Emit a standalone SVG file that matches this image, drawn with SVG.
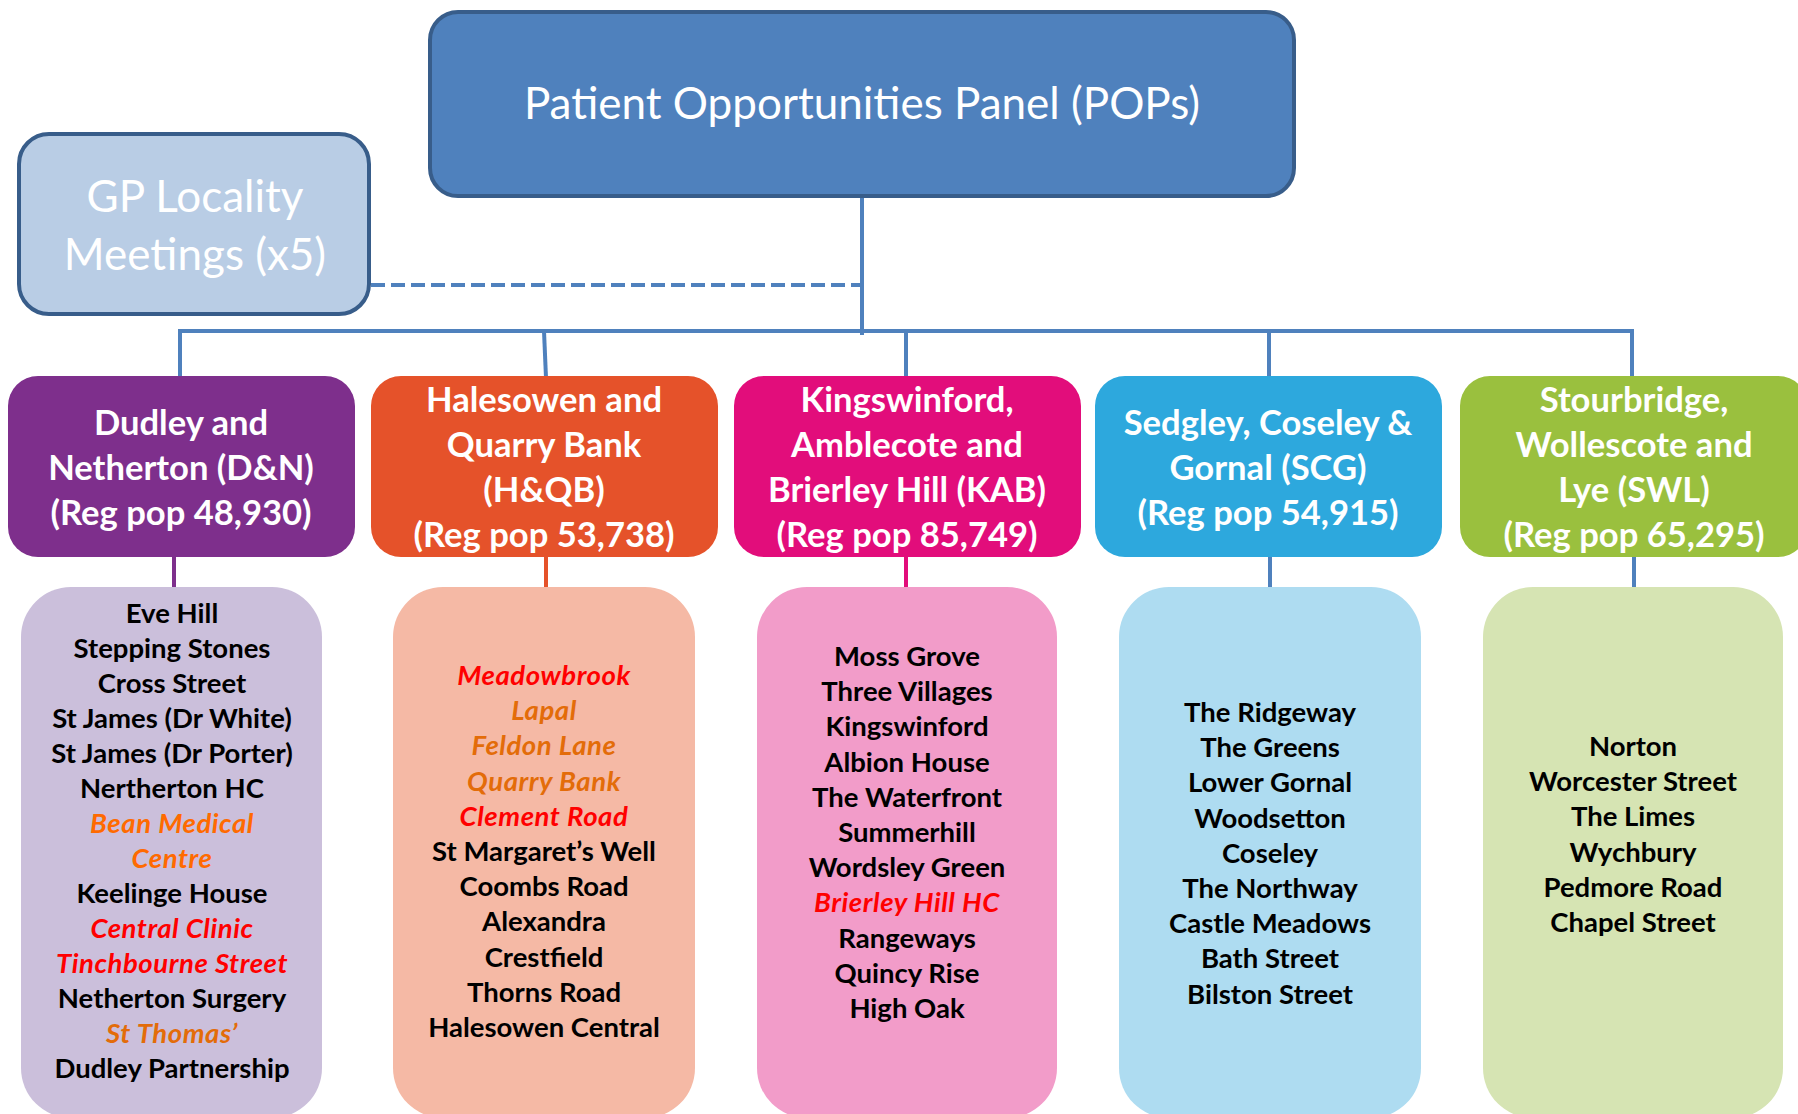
<svg xmlns="http://www.w3.org/2000/svg" width="1798" height="1114" viewBox="0 0 1798 1114">
  <style>
    .bg { fill: #ffffff; }
    .panel { fill: #4F81BD; stroke: #385D8A; stroke-width: 4; }
    .gp { fill: #B9CDE5; stroke: #385D8A; stroke-width: 4; }
    .title { font-family: "Lato", "Open Sans", sans-serif; fill: #ffffff; text-anchor: middle; }
    .cat { font-family: "Lato", "Open Sans", sans-serif; font-weight: bold; font-size: 34.6px; fill: #ffffff; text-anchor: middle; }
    .list { font-family: "Lato", "Open Sans", sans-serif; font-weight: bold; font-size: 27.5px; fill: #000000; text-anchor: middle; }
    .red { fill: #FF0000; font-style: italic; letter-spacing: 0.55px; }
    .orange { fill: #E36C09; font-style: italic; letter-spacing: 0.55px; }
    .bright { fill: #FF6A00; font-style: italic; letter-spacing: 0.55px; }
    .link { fill: none; stroke: #4F81BD; stroke-width: 4; }
    .dash { stroke-dasharray: 14 6; }
  </style>

  <rect class="bg" x="0" y="0" width="1798" height="1114"/>

  <!-- connectors -->
  <g id="connectors">
    <line class="link" x1="862" y1="197" x2="862" y2="335"/>
    <line class="link dash" x1="371" y1="285" x2="862" y2="285"/>
    <polyline class="link" points="180,378 180,331 1632,331 1632,378"/>
    <line class="link" x1="544" y1="331" x2="546" y2="378"/>
    <line class="link" x1="906" y1="331" x2="906" y2="378"/>
    <line class="link" x1="1269" y1="331" x2="1269" y2="378"/>
    <line class="link" x1="174" y1="555" x2="174" y2="589" style="stroke:#7E2F8C"/>
    <line class="link" x1="546" y1="555" x2="546" y2="589" style="stroke:#E5522A"/>
    <line class="link" x1="906" y1="555" x2="906" y2="589" style="stroke:#E20D7B"/>
    <line class="link" x1="1270" y1="555" x2="1270" y2="589"/>
    <line class="link" x1="1634" y1="555" x2="1634" y2="589"/>
  </g>

  <!-- top panel -->
  <g id="pops">
    <rect class="panel" x="430" y="12" width="864" height="184" rx="28"/>
    <text class="title" x="862" y="119" font-size="44">Patient Opportunities Panel (POPs)</text>
  </g>

  <!-- locality meetings -->
  <g id="gp-locality">
    <rect class="gp" x="19" y="134" width="350" height="180" rx="30"/>
    <text class="title" x="195" y="212" font-size="44">GP Locality</text>
    <text class="title" x="195" y="270" font-size="44">Meetings (x5)</text>
  </g>

  <!-- Dudley and Netherton -->
  <g id="dn">
    <rect x="8" y="376" width="347" height="181" rx="30" fill="#7E2F8C"/>
    <text class="cat" x="181" y="434.5">Dudley and</text>
    <text class="cat" x="181" y="479.5">Netherton (D&amp;N)</text>
    <text class="cat" x="181" y="524.5">(Reg pop 48,930)</text>
  </g>
  <g id="dn-list">
    <rect x="21" y="587" width="301" height="531" rx="50" fill="#CBBFDB"/>
    <text class="list" x="172" y="623">Eve Hill</text>
    <text class="list" x="172" y="658">Stepping Stones</text>
    <text class="list" x="172" y="693">Cross Street</text>
    <text class="list" x="172" y="728">St James (Dr White)</text>
    <text class="list" x="172" y="763">St James (Dr Porter)</text>
    <text class="list" x="172" y="798">Nertherton HC</text>
    <text class="list bright" x="172" y="833">Bean Medical</text>
    <text class="list bright" x="172" y="868">Centre</text>
    <text class="list" x="172" y="903">Keelinge House</text>
    <text class="list red" x="172" y="938">Central Clinic</text>
    <text class="list red" x="172" y="973">Tinchbourne Street</text>
    <text class="list" x="172" y="1008">Netherton Surgery</text>
    <text class="list orange" x="172" y="1043">St Thomas’</text>
    <text class="list" x="172" y="1078">Dudley Partnership</text>
  </g>

  <!-- Halesowen and Quarry Bank -->
  <g id="hqb">
    <rect x="371" y="376" width="347" height="181" rx="30" fill="#E5522A"/>
    <text class="cat" x="544" y="412">Halesowen and</text>
    <text class="cat" x="544" y="457">Quarry Bank</text>
    <text class="cat" x="544" y="502">(H&amp;QB)</text>
    <text class="cat" x="544" y="547">(Reg pop 53,738)</text>
  </g>
  <g id="hqb-list">
    <rect x="393" y="587" width="302" height="531" rx="50" fill="#F5B9A5"/>
    <text class="list red" x="544" y="685">Meadowbrook</text>
    <text class="list orange" x="544" y="720.2">Lapal</text>
    <text class="list orange" x="544" y="755.4">Feldon Lane</text>
    <text class="list orange" x="544" y="790.6">Quarry Bank</text>
    <text class="list red" x="544" y="825.8">Clement Road</text>
    <text class="list" x="544" y="861">St Margaret’s Well</text>
    <text class="list" x="544" y="896.2">Coombs Road</text>
    <text class="list" x="544" y="931.4">Alexandra</text>
    <text class="list" x="544" y="966.6">Crestfield</text>
    <text class="list" x="544" y="1001.8">Thorns Road</text>
    <text class="list" x="544" y="1037">Halesowen Central</text>
  </g>

  <!-- Kingswinford, Amblecote and Brierley Hill -->
  <g id="kab">
    <rect x="734" y="376" width="347" height="181" rx="30" fill="#E20D7B"/>
    <text class="cat" x="907" y="412">Kingswinford,</text>
    <text class="cat" x="907" y="457">Amblecote and</text>
    <text class="cat" x="907" y="502">Brierley Hill (KAB)</text>
    <text class="cat" x="907" y="547">(Reg pop 85,749)</text>
  </g>
  <g id="kab-list">
    <rect x="757" y="587" width="300" height="531" rx="50" fill="#F29CC9"/>
    <text class="list" x="907" y="666">Moss Grove</text>
    <text class="list" x="907" y="701.2">Three Villages</text>
    <text class="list" x="907" y="736.4">Kingswinford</text>
    <text class="list" x="907" y="771.6">Albion House</text>
    <text class="list" x="907" y="806.8">The Waterfront</text>
    <text class="list" x="907" y="842">Summerhill</text>
    <text class="list" x="907" y="877.2">Wordsley Green</text>
    <text class="list red" x="907" y="912.4">Brierley Hill HC</text>
    <text class="list" x="907" y="947.6">Rangeways</text>
    <text class="list" x="907" y="982.8">Quincy Rise</text>
    <text class="list" x="907" y="1018">High Oak</text>
  </g>

  <!-- Sedgley, Coseley and Gornal -->
  <g id="scg">
    <rect x="1095" y="376" width="347" height="181" rx="30" fill="#2DA8DD"/>
    <text class="cat" x="1268" y="434.5">Sedgley, Coseley &amp;</text>
    <text class="cat" x="1268" y="479.5">Gornal (SCG)</text>
    <text class="cat" x="1268" y="524.5">(Reg pop 54,915)</text>
  </g>
  <g id="scg-list">
    <rect x="1119" y="587" width="302" height="531" rx="50" fill="#AEDCF1"/>
    <text class="list" x="1270" y="722">The Ridgeway</text>
    <text class="list" x="1270" y="757.2">The Greens</text>
    <text class="list" x="1270" y="792.4">Lower Gornal</text>
    <text class="list" x="1270" y="827.6">Woodsetton</text>
    <text class="list" x="1270" y="862.8">Coseley</text>
    <text class="list" x="1270" y="898">The Northway</text>
    <text class="list" x="1270" y="933.2">Castle Meadows</text>
    <text class="list" x="1270" y="968.4">Bath Street</text>
    <text class="list" x="1270" y="1003.6">Bilston Street</text>
  </g>

  <!-- Stourbridge, Wollescote and Lye -->
  <g id="swl">
    <rect x="1460" y="376" width="348" height="181" rx="30" fill="#9AC03E"/>
    <text class="cat" x="1634" y="412">Stourbridge,</text>
    <text class="cat" x="1634" y="457">Wollescote and</text>
    <text class="cat" x="1634" y="502">Lye (SWL)</text>
    <text class="cat" x="1634" y="547">(Reg pop 65,295)</text>
  </g>
  <g id="swl-list">
    <rect x="1483" y="587" width="300" height="531" rx="50" fill="#D6E4B3"/>
    <text class="list" x="1633" y="756">Norton</text>
    <text class="list" x="1633" y="791.2">Worcester Street</text>
    <text class="list" x="1633" y="826.4">The Limes</text>
    <text class="list" x="1633" y="861.6">Wychbury</text>
    <text class="list" x="1633" y="896.8">Pedmore Road</text>
    <text class="list" x="1633" y="932">Chapel Street</text>
  </g>
</svg>
